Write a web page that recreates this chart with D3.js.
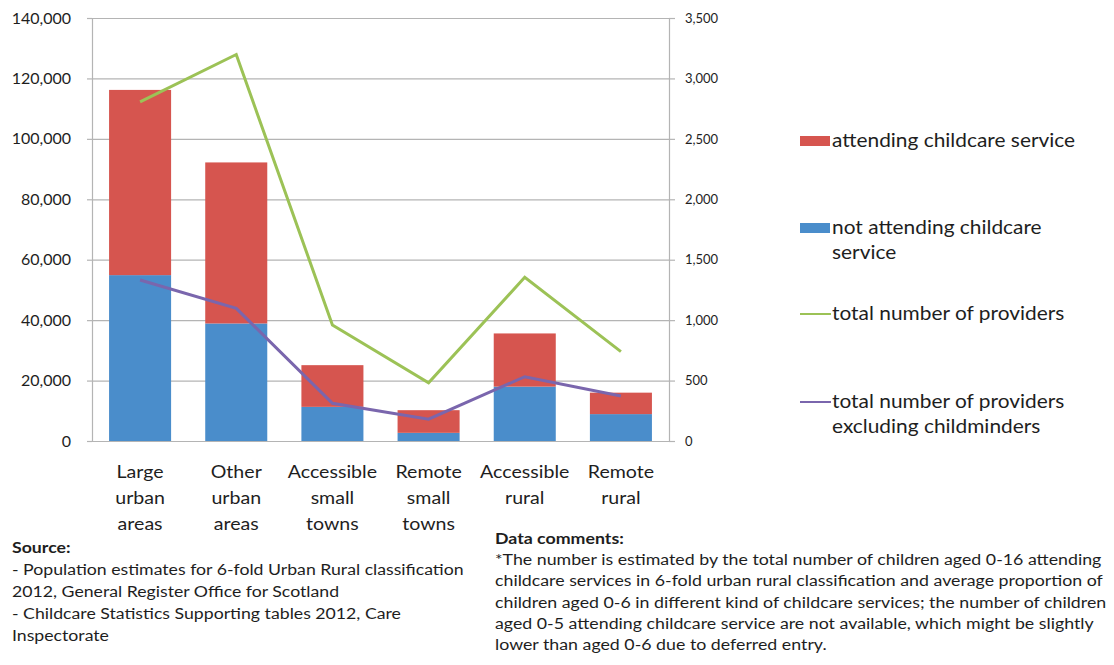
<!DOCTYPE html>
<html>
<head>
<meta charset="utf-8">
<script src="https://cdn.jsdelivr.net/npm/d3@7"></script>
<style>
  body { margin: 0; background: #fff; }
  svg text { font-family: Lato, "Open Sans", sans-serif; fill: #1e1e1e; }
</style>
</head>
<body>
<svg id="chart" width="1114" height="665"></svg>
<script>
// Categories (6-fold urban rural classification)
const categories = [
  ['Large', 'urban', 'areas'],
  ['Other', 'urban', 'areas'],
  ['Accessible', 'small', 'towns'],
  ['Remote', 'small', 'towns'],
  ['Accessible', 'rural'],
  ['Remote', 'rural']
];
const categoryKeys = categories.map(c => c.join(' '));

// Children (left axis)
const notAttending = [54900, 38900, 11300, 2700, 18000, 8900];
const attending = [61300, 53300, 13800, 7500, 17600, 7100];

// Providers (right axis)
const totalProviders = [2806, 3198, 960, 482, 1354, 739];
const providersExclChildminders = [1332, 1097, 312, 180, 532, 372];

const leftTicks = [0, 20000, 40000, 60000, 80000, 100000, 120000, 140000];
const rightTicks = [0, 500, 1000, 1500, 2000, 2500, 3000, 3500];

const COLORS = {
  attending: '#d6554f',
  notAttending: '#4a8dcb',
  total: '#9cc256',
  excl: '#7a66ad',
  grid: '#b4b4b4'
};

// The source picture is slightly stretched sideways; text is widened to match
const TEXT_STRETCH = 1.12;

const svg = d3.select('#chart');
const plot = { left: 92, right: 669, top: 18, bottom: 441 };

const x = d3.scaleBand()
  .domain(categoryKeys)
  .range([plot.left, plot.right])
  .paddingInner(0.355)
  .paddingOuter(0.1775);

const yLeft = d3.scaleLinear().domain([0, 140000]).range([plot.bottom, plot.top]);
const yRight = d3.scaleLinear().domain([0, 3500]).range([plot.bottom, plot.top]);

// Gridlines
svg.append('g')
  .selectAll('line')
  .data(leftTicks.slice(1))
  .join('line')
    .attr('x1', plot.left)
    .attr('x2', plot.right)
    .attr('y1', d => yLeft(d) + 0.5)
    .attr('y2', d => yLeft(d) + 0.5)
    .attr('stroke', COLORS.grid)
    .attr('stroke-width', 1.2);

// Stacked bars
const stackData = categoryKeys.map((k, i) => ({
  key: k, notAttending: notAttending[i], attending: attending[i]
}));
const series = d3.stack().keys(['notAttending', 'attending'])(stackData);

svg.append('g')
  .selectAll('g')
  .data(series)
  .join('g')
    .attr('fill', d => COLORS[d.key])
  .selectAll('rect')
  .data(d => d)
  .join('rect')
    .attr('x', d => x(d.data.key))
    .attr('width', x.bandwidth())
    .attr('y', d => yLeft(d[1]))
    .attr('height', d => yLeft(d[0]) - yLeft(d[1]));

// Lines on the secondary axis
const line = d3.line()
  .x((d, i) => x(categoryKeys[i]) + x.bandwidth() / 2)
  .y(d => yRight(d));

[[totalProviders, COLORS.total], [providersExclChildminders, COLORS.excl]]
  .forEach(([values, color]) => {
    svg.append('path')
      .datum(values)
      .attr('fill', 'none')
      .attr('stroke', color)
      .attr('stroke-width', 3)
      .attr('stroke-linejoin', 'miter')
      .attr('d', line);
  });

// Axes
const fmt = d3.format(',');

const leftAxis = svg.append('g')
  .attr('transform', `translate(${plot.left},0)`)
  .call(d3.axisLeft(yLeft).tickValues(leftTicks).tickFormat(fmt).tickSize(5).tickPadding(16));
leftAxis.selectAll('text').style('font-size', '16px');

const rightAxis = svg.append('g')
  .attr('transform', `translate(${plot.right},0)`)
  .call(d3.axisRight(yRight).tickValues(rightTicks).tickFormat(fmt).tickSize(6).tickPadding(10));
rightAxis.selectAll('text').style('font-size', '13px');

svg.append('line')
  .attr('x1', plot.left).attr('x2', plot.right)
  .attr('y1', plot.bottom + 0.5).attr('y2', plot.bottom + 0.5)
  .attr('stroke', COLORS.grid).attr('stroke-width', 1.2);

[leftAxis, rightAxis].forEach(a => {
  a.select('.domain').attr('stroke', COLORS.grid).attr('stroke-width', 1.2);
  a.selectAll('.tick line').attr('stroke', COLORS.grid).attr('stroke-width', 1.2);
});

// Category labels
svg.append('g')
  .selectAll('text')
  .data(categories)
  .join('text')
    .attr('text-anchor', 'middle')
    .attr('transform', (d, i) =>
      `translate(${x(categoryKeys[i]) + x.bandwidth() / 2},478) scale(${TEXT_STRETCH},1)`)
    .style('font-size', '17.5px')
  .selectAll('tspan')
  .data(d => d)
  .join('tspan')
    .attr('x', 0)
    .attr('dy', (d, i) => i === 0 ? 0 : 26)
    .text(d => d);

// Legend
const legend = svg.append('g').style('font-size', '18.5px');
const legendItems = [
  { type: 'rect', color: COLORS.attending, y: 141, lines: ['attending childcare service'] },
  { type: 'rect', color: COLORS.notAttending, y: 228, lines: ['not attending childcare', 'service'] },
  { type: 'line', color: COLORS.total, y: 314, lines: ['total number of providers'] },
  { type: 'line', color: COLORS.excl, y: 402, lines: ['total number of providers', 'excluding childminders'] }
];
legendItems.forEach(item => {
  if (item.type === 'rect') {
    legend.append('rect')
      .attr('x', 800).attr('y', item.y - 5)
      .attr('width', 30).attr('height', 10)
      .attr('fill', item.color);
  } else {
    legend.append('line')
      .attr('x1', 800).attr('x2', 831)
      .attr('y1', item.y).attr('y2', item.y)
      .attr('stroke', item.color).attr('stroke-width', 2);
  }
  const t = legend.append('text')
    .attr('transform', `translate(832,${item.y + 6}) scale(1.13,1)`);
  item.lines.forEach((s, i) => {
    t.append('tspan').attr('x', 0).attr('dy', i === 0 ? 0 : 25).text(s);
  });
});

// Notes
const sourceLines = [
  '- Population estimates for 6-fold Urban Rural classification',
  '2012, General  Register Office for Scotland',
  '- Childcare Statistics Supporting tables 2012, Care',
  'Inspectorate'
];
const commentLines = [
  '*The number is estimated by the total number of children aged 0-16 attending',
  'childcare services in 6-fold urban rural classification and average proportion of',
  'children aged 0-6 in different kind of childcare services;  the number of children',
  'aged 0-5 attending childcare service are not available, which might be slightly',
  'lower than aged 0-6 due to deferred entry.'
];

function notes (xPos, yPos, title, lines, step, size, stretch) {
  const g = svg.append('g')
    .attr('transform', `translate(${xPos},${yPos}) scale(${stretch},1)`)
    .style('font-size', size + 'px')
    .style('white-space', 'pre');
  g.append('text').attr('x', 0).attr('y', 0)
    .style('font-weight', 'bold').text(title);
  g.selectAll('text.line')
    .data(lines)
    .join('text')
      .attr('class', 'line')
      .attr('x', 0)
      .attr('y', (d, i) => step * (i + 1))
      .text(d => d);
}

notes(12, 553, 'Source:', sourceLines, 22, 15, 1.18);
notes(495, 544, 'Data comments:', commentLines, 21.2, 15, 1.185);
</script>
</body>
</html>
